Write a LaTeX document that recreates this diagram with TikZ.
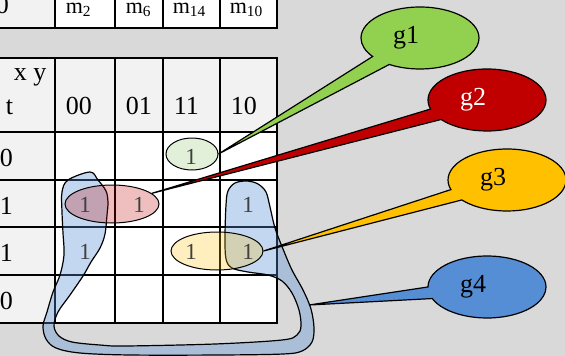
\documentclass[tikz,border=0pt]{standalone}
\usepackage{fontspec}
\setmainfont{Liberation Serif}
\usetikzlibrary{shapes.geometric, shapes.callouts}

\definecolor{paper}{HTML}{D9D9D9}
\definecolor{head}{HTML}{F2F2F2}
\definecolor{gA}{HTML}{92D050}
\definecolor{gApale}{HTML}{E2F0D9}
\definecolor{gB}{HTML}{C00000}
\definecolor{gC}{HTML}{FFC000}
\definecolor{gD}{HTML}{558ED5}

\begin{document}
\begin{tikzpicture}[x=1pt, y=-1pt, line width=1.5pt,
		hdtext/.style={font=\fontsize{26}{26}\selectfont, anchor=base west, inner sep=0pt},
		mtext/.style={font=\fontsize{22}{22}\selectfont, anchor=base west, inner sep=0pt},
		onecell/.style={font=\fontsize{23}{23}\selectfont, text=black!75, inner sep=0pt},
		grp/.style={ellipse, draw, line width=1pt, inner sep=0pt},
		gtag/.style={ellipse callout, draw, line width=1.2pt, inner sep=0pt,
			minimum width=118pt, minimum height=62pt, callout pointer arc=22,
			font=\fontsize{26}{26}\selectfont}]
	\useasboundingbox (0,0) rectangle (565,356);
	\fill[paper] (0,0) rectangle (565,356);
	\clip (0,0) rectangle (565,356);

	% minterm row
	\fill[head] (-10,-10) rectangle (55,28);
	\fill[white] (55,-10) rectangle (277,28);
	\draw[line cap=rect] (-10,28) -- (277,28);
	\foreach \x in {55,115,163,220,277}
		\draw[line cap=rect] (\x,-10) -- (\x,28);
	\node[hdtext] (top0) at (-5,13) {0};
	\node[mtext] (m2) at (65,13) {m\textsubscript{2}};
	\node[mtext] (m6) at (125,13) {m\textsubscript{6}};
	\node[mtext] (m14) at (172,13) {m\textsubscript{14}};
	\node[mtext] (m10) at (229,13) {m\textsubscript{10}};

	% k-map
	\fill[head] (-10,58) rectangle (277,132);
	\fill[head] (-10,132) rectangle (55,323);
	\fill[white] (55,132) rectangle (277,323);
	\foreach \y in {58,132,180,227,275,323}
		\draw[line cap=rect] (-10,\y) -- (277,\y);
	\foreach \x in {55,115,163,220,277}
		\draw[line cap=rect] (\x,58) -- (\x,323);

	\node[hdtext] (xy) at (13,80) {x y};
	\node[hdtext] (t) at (5,114) {t};
	\node[hdtext] (h00) at (65,114) {00};
	\node[hdtext] (h01) at (125,114) {01};
	\node[hdtext] (h11) at (173,114) {11};
	\node[hdtext] (h10) at (230,114) {10};
	\foreach \r/\v/\y in {a/0/166, b/1/214, c/1/261, d/0/309}
		\node[hdtext] (row\r) at (-1,\y) {\v};

	% g4 loop
	\draw[fill=gD, fill opacity=0.35, line width=1.2pt] plot[smooth cycle, tension=0.55] coordinates {
		(90,172) (68,180) (62,192) (62,212) (63,233) (64,255) (60,275) (53,292)
		(47,312) (43,326) (46,339) (56,348) (80,353) (130,355) (220,355) (283,354)
		(302,351) (312,342) (314,328) (311,309) (303,290) (292,270) (283,249)
		(275,228) (270,207) (266,192) (258,184) (247,181) (235,183) (228,191)
		(226,205) (225,237) (226,259) (232,268) (248,272) (268,275) (282,281)
		(292,293) (299,310) (301,326) (297,335) (282,340) (215,344) (125,346)
		(100,345) (72,342) (59,336) (54,326) (58,312) (70,295) (83,276) (91,262)
		(100,248) (105,234) (107,215) (108,202) (106,191) (98,180)};

	\node[grp, fill=gApale, minimum width=52pt, minimum height=32pt] (ga) at (192,154) {};
	\node[grp, fill=gB, fill opacity=0.25, minimum width=94pt, minimum height=38pt] (gb) at (112,204) {};
	\node[grp, fill=gC, fill opacity=0.25, minimum width=92pt, minimum height=38pt] (gc) at (217,251) {};

	\foreach \n/\x/\y in {a/191/157, b/85/205, c/139/205, d/248/205, e/85/252, f/191/252, g/248/252}
		\node[onecell] (one\n) at (\x,\y) {1};

	\coordinate (loopR) at (309,305);
	\node[gtag, fill=gA, callout absolute pointer={(ga.east)}] (g1) at (420,38) {g1\kern28pt};
	\node[gtag, fill=gB, text=white, callout absolute pointer={(gb.15)}] (g2) at (487,100) {g2\kern28pt};
	\node[gtag, fill=gC, callout absolute pointer={(gc.east)}] (g3) at (507,180) {g3\kern28pt};
	\node[gtag, fill=gD, callout absolute pointer={(loopR)}] (g4) at (487,287) {g4\kern28pt};
\end{tikzpicture}
\end{document}
